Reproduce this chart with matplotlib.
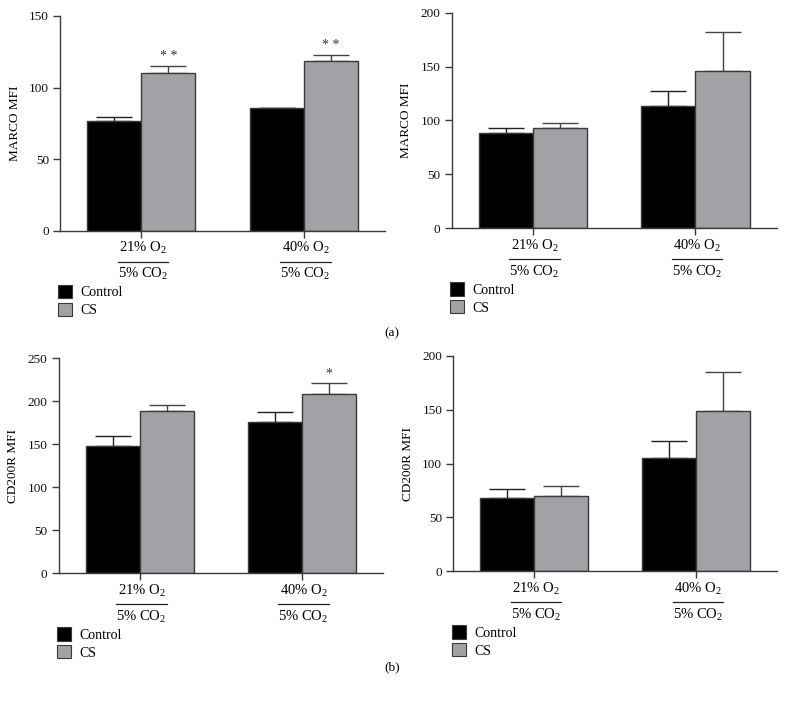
import matplotlib
matplotlib.use("Agg")
import matplotlib.pyplot as plt
from matplotlib.patches import Patch
import numpy as np

plt.rcParams['font.family'] = ['Liberation Serif', 'DejaVu Serif']
plt.rcParams['mathtext.fontset'] = 'custom'
plt.rcParams['mathtext.rm'] = 'Liberation Serif'

groups_top = ["21% O$_2$", "40% O$_2$"]
groups_bottom = ["5% CO$_2$", "5% CO$_2$"]
series = ["Control", "CS"]

# Panel (a) left
a1_control = [76.5, 85.6]
a1_control_err = [2.8, 0.4]
a1_cs = [110.0, 118.8]
a1_cs_err = [5.3, 4.2]
a1_stars = ["", "", "* *", "* *"]

# Panel (a) right
a2_control = [88.6, 113.7]
a2_control_err = [4.4, 13.3]
a2_cs = [93.3, 146.1]
a2_cs_err = [4.6, 36.2]

# Panel (b) left
b1_control = [148.2, 176.0]
b1_control_err = [10.8, 11.0]
b1_cs = [188.8, 208.5]
b1_cs_err = [6.2, 12.5]
b1_stars = ["", "", "", "*"]

# Panel (b) right
b2_control = [68.1, 105.0]
b2_control_err = [8.7, 16.3]
b2_cs = [69.7, 149.2]
b2_cs_err = [9.6, 35.7]

W, H = 786, 702
fig = plt.figure(figsize=(W / 100, H / 100), dpi=100)

CTRL = "#000000"
CSC = "#a2a2a6"
EDGE = "#3a3a3a"


def make_axes(left, right, top, bottom):
    return fig.add_axes([left / W, 1 - bottom / H, (right - left) / W, (bottom - top) / H])


def draw_panel(ax, ctrl, ctrl_err, cs, cs_err, ymax, ystep, ylabel, stars=None):
    x = np.arange(len(groups_top))
    w = 1 / 3
    ax.bar(x - w / 2, ctrl, w, color=CTRL, edgecolor=EDGE, linewidth=1.0, zorder=2)
    ax.bar(x + w / 2, cs, w, color=CSC, edgecolor=EDGE, linewidth=1.0, zorder=2)
    ax.errorbar(x - w / 2, ctrl, yerr=[np.zeros(len(ctrl)), ctrl_err], fmt='none',
                ecolor="#222222", elinewidth=1.0, capsize=13, capthick=1.0, zorder=1)
    ax.errorbar(x + w / 2, cs, yerr=[np.zeros(len(cs)), cs_err], fmt='none',
                ecolor="#444444", elinewidth=1.0, capsize=13, capthick=1.0, zorder=1)
    if stars:
        vals = list(ctrl) + list(cs)
        errs = list(ctrl_err) + list(cs_err)
        pos = list(x - w / 2) + list(x + w / 2)
        for p, v, e, s in zip(pos, vals, errs, stars):
            if s:
                ax.text(p, v + e + ymax * 0.012, s, ha='center', va='bottom',
                        fontsize=10, color="#333333")
    ax.set_xlim(-0.5, 1.5)
    ax.set_ylim(0, ymax)
    ax.set_yticks(np.arange(0, ymax + 1, ystep))
    ax.set_xticks(x)
    ax.set_xticklabels([])
    for s in ['top', 'right']:
        ax.spines[s].set_visible(False)
    for s in ['left', 'bottom']:
        ax.spines[s].set_color(EDGE)
        ax.spines[s].set_linewidth(1.0)
    ax.tick_params(axis='both', direction='out', length=5, width=1.0, color=EDGE,
                   labelsize=9.5, labelcolor="#111111", pad=3)
    ax.set_ylabel(ylabel, fontsize=9.5, labelpad=6)
    trans = ax.get_xaxis_transform()
    axh = ax.get_position().height * H
    for xi, t, b in zip(x, groups_top, groups_bottom):
        ax.text(xi + 0.01, -17 / axh, t, transform=trans, ha='center', va='center',
                fontsize=10.5)
        ax.plot([xi - 0.145, xi + 0.165], [-31 / axh, -31 / axh], transform=trans,
                color="#222222", lw=0.9, clip_on=False)
        ax.text(xi + 0.01, -43 / axh, b, transform=trans, ha='center', va='center',
                fontsize=10.5)
    handles = [Patch(facecolor=CTRL, edgecolor=EDGE, lw=0.8),
               Patch(facecolor=CSC, edgecolor=EDGE, lw=0.8)]
    ax.legend(handles, series, loc='upper left', bbox_to_anchor=(-0.005, -54 / axh),
              frameon=False, handlelength=1.0, handleheight=1.1, handletextpad=0.6,
              labelspacing=0.25, borderaxespad=0, borderpad=0, fontsize=10)


ax1 = make_axes(60, 385, 16, 231)
draw_panel(ax1, a1_control, a1_control_err, a1_cs, a1_cs_err, 150, 50, "MARCO MFI", a1_stars)

ax2 = make_axes(451.7, 776.7, 12.7, 228.3)
draw_panel(ax2, a2_control, a2_control_err, a2_cs, a2_cs_err, 200, 50, "MARCO MFI")

ax3 = make_axes(58.7, 383, 358, 573.3)
draw_panel(ax3, b1_control, b1_control_err, b1_cs, b1_cs_err, 250, 50, "CD200R MFI", b1_stars)

ax4 = make_axes(453.3, 777, 356, 571.3)
draw_panel(ax4, b2_control, b2_control_err, b2_cs, b2_cs_err, 200, 50, "CD200R MFI")

fig.text(392 / W, 1 - 333 / H, "(a)", ha='center', va='center', fontsize=9.5)
fig.text(392 / W, 1 - 667 / H, "(b)", ha='center', va='center', fontsize=9.5)

fig.savefig("out.png", dpi=100)
